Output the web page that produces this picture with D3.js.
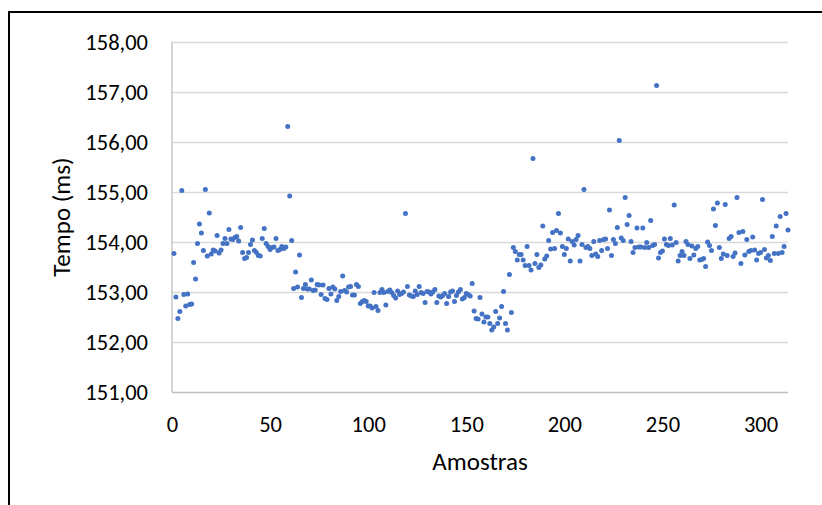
<!DOCTYPE html>
<html>
<head>
<meta charset="utf-8">
<script src="https://cdn.jsdelivr.net/npm/d3@7"></script>
<style>
  body { margin: 0; background: #fff; }
  text { font-family: Carlito, Calibri, "Liberation Sans", Arial, sans-serif; fill: #000; }
</style>
</head>
<body>
<div id="chart"></div>
<script>
// Tempo (ms) por amostra
const tempo = [
  153.77, 152.90, 152.47, 152.61, 155.03, 152.95, 152.72, 152.96, 152.75, 152.76,
  153.59, 153.26, 153.97, 154.36, 154.18, 153.83, 155.05, 153.72, 154.58, 153.76,
  153.84, 153.82, 154.13, 153.78, 153.84, 153.97, 154.07, 153.97, 154.25, 154.06,
  154.05, 154.09, 154.11, 154.02, 154.29, 153.79, 153.67, 153.69, 153.79, 153.95,
  154.04, 153.83, 153.79, 153.73, 153.72, 154.07, 154.27, 153.97, 153.91, 153.85,
  153.89, 153.90, 154.07, 153.83, 153.85, 153.91, 153.87, 153.90, 156.31, 154.92,
  154.03, 153.07, 153.40, 153.10, 153.74, 152.89, 153.07, 153.15, 153.06, 153.06,
  153.24, 153.03, 153.04, 153.15, 153.14, 152.95, 153.14, 152.87, 152.85, 153.07,
  152.96, 153.10, 153.06, 152.83, 152.91, 153.01, 153.32, 153.03, 153.00, 153.10,
  153.11, 152.94, 152.94, 153.15, 153.11, 152.77, 152.81, 152.83, 152.81, 152.72,
  152.72, 152.68, 152.99, 152.71, 152.63, 152.99, 153.05, 152.99, 152.74, 153.01,
  153.04, 152.99, 152.93, 152.88, 153.02, 152.95, 152.97, 153.00, 154.57, 153.11,
  152.94, 152.92, 152.91, 153.02, 152.95, 153.11, 152.99, 152.97, 152.79, 153.01,
  153.00, 152.96, 153.00, 153.05, 152.79, 152.92, 152.90, 152.93, 152.97, 152.77,
  152.91, 153.00, 153.02, 152.81, 152.93, 153.00, 153.05, 152.86, 152.89, 152.97,
  152.95, 152.92, 153.17, 152.62, 152.47, 152.46, 152.89, 152.56, 152.40, 152.50,
  152.50, 152.37, 152.24, 152.30, 152.61, 152.37, 152.48, 152.71, 153.01, 152.37,
  152.24, 153.35, 152.59, 153.89, 153.81, 153.64, 153.75, 153.75, 153.64, 153.53,
  153.91, 153.53, 153.44, 155.67, 153.57, 153.75, 153.49, 153.54, 154.32, 153.66,
  153.72, 154.03, 153.86, 154.19, 153.87, 154.23, 154.57, 154.18, 153.91, 153.75,
  153.87, 154.06, 153.62, 154.01, 153.94, 154.05, 154.13, 153.62, 153.95, 155.05,
  153.89, 153.91, 153.87, 153.73, 154.01, 153.76, 153.71, 154.03, 153.83, 154.05,
  154.06, 153.87, 154.64, 153.73, 154.05, 153.97, 154.29, 156.03, 154.08, 154.03,
  154.89, 154.35, 154.53, 154.01, 153.79, 153.89, 154.28, 153.90, 153.90, 154.28,
  153.89, 153.99, 153.89, 154.43, 153.93, 153.95, 157.13, 153.68, 153.79, 153.82,
  154.06, 153.95, 153.93, 154.07, 153.94, 154.74, 153.99, 153.62, 153.73, 153.81,
  153.73, 154.01, 153.95, 153.67, 153.92, 153.74, 153.87, 153.91, 153.64, 153.65,
  153.67, 153.51, 154.00, 153.93, 153.83, 154.66, 154.33, 154.78, 153.89, 153.67,
  153.76, 154.75, 153.73, 154.07, 154.11, 153.71, 153.78, 154.89, 154.19, 153.57,
  154.21, 153.74, 154.05, 153.81, 153.83, 154.10, 153.84, 153.64, 153.77, 153.79,
  154.85, 153.85, 153.68, 153.73, 153.63, 154.11, 153.77, 154.32, 153.77, 154.51,
  153.79, 153.91, 154.57, 154.24
]
// número da amostra (1..N)
const amostras = tempo.map((_, i) => i + 1)

const xTicks = [0, 50, 100, 150, 200, 250, 300]
const yTicks = [151, 152, 153, 154, 155, 156, 157, 158]
const X_MAX = 314

const MARGIN = { TOP: 42, LEFT: 172 }
const WIDTH = 616
const HEIGHT = 350

const ptBR = d3.formatLocale({ decimal: ",", thousands: ".", grouping: [3], currency: ["", ""] })
const fmtY = ptBR.format(".2f")

const svg = d3.select("#chart")
  .append("svg")
  .attr("width", 822)
  .attr("height", 505)

// moldura da imagem
svg.append("rect")
  .attr("x", 9)
  .attr("y", 12)
  .attr("width", 900)
  .attr("height", 600)
  .attr("fill", "none")
  .attr("stroke", "#000")
  .attr("stroke-width", 2)

const g = svg.append("g")
  .attr("transform", `translate(${MARGIN.LEFT}, ${MARGIN.TOP})`)

const x = d3.scaleLinear().domain([0, X_MAX]).range([0, WIDTH])
const y = d3.scaleLinear().domain([151, 158]).range([HEIGHT, 0])

// grade horizontal + rótulos do eixo y
const yAxis = g.append("g")
  .call(d3.axisLeft(y).tickValues(yTicks).tickSize(-WIDTH).tickPadding(24).tickFormat(fmtY))
yAxis.select(".domain").remove()
yAxis.selectAll(".tick line")
  .attr("stroke", d => d === 151 ? "#bfbfbf" : "#d9d9d9")
  .attr("stroke-width", 1.3)
yAxis.selectAll(".tick text")
  .attr("font-size", 22.5)
  .attr("dy", "0.35em")

// eixo x (sem linhas, só rótulos)
const xAxis = g.append("g")
  .attr("transform", `translate(0, ${HEIGHT})`)
  .call(d3.axisBottom(x).tickValues(xTicks).tickSize(0).tickPadding(24))
xAxis.select(".domain").remove()
xAxis.selectAll(".tick text")
  .attr("font-size", 22.5)

// linha vertical do eixo y
g.append("line")
  .attr("x1", 0).attr("x2", 0)
  .attr("y1", 0).attr("y2", HEIGHT)
  .attr("stroke", "#bfbfbf")
  .attr("stroke-width", 1.3)

g.selectAll("circle.pt")
  .data(tempo)
  .enter()
  .append("circle")
  .attr("class", "pt")
  .attr("cx", (d, i) => x(amostras[i]))
  .attr("cy", d => y(d))
  .attr("r", 2.5)
  .attr("fill", "#4472c4")

// títulos dos eixos
svg.append("text")
  .attr("x", MARGIN.LEFT + WIDTH / 2)
  .attr("y", 470)
  .attr("text-anchor", "middle")
  .attr("font-size", 25)
  .text("Amostras")

svg.append("text")
  .attr("transform", `translate(70, ${MARGIN.TOP + HEIGHT / 2}) rotate(-90)`)
  .attr("text-anchor", "middle")
  .attr("font-size", 25)
  .text("Tempo (ms)")
</script>
</body>
</html>
